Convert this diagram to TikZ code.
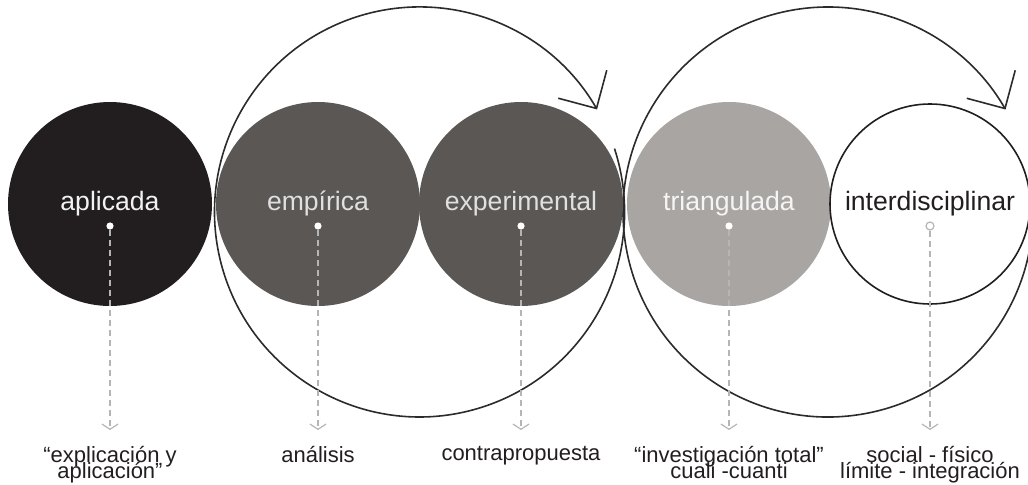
\documentclass[tikz,border=0pt]{standalone}
\usepackage{fontspec}
\setmainfont{Liberation Sans}
\usepackage{tikz}
\usetikzlibrary{arrows.meta}
\definecolor{negro}{HTML}{221E1F}
\definecolor{oscuro}{HTML}{5B5755}
\definecolor{claro}{HTML}{A8A5A3}
\definecolor{guiagris}{HTML}{B5B5B5}
\definecolor{trazo}{HTML}{2B2B2B}
\newcommand{\fuenterotulo}{\fontsize{11}{7.8}\selectfont\lineskiplimit=-20pt\relax}

\begin{document}
\begin{tikzpicture}[x=0.5pt,y=0.5pt,
    etapa/.style={circle,minimum size=102pt,inner sep=0pt,text height=0.8em,text depth=0.2em,font=\fontsize{13.3}{16}\selectfont},
    punto/.style={circle,fill=white,inner sep=0pt,minimum size=3.6pt},
    guia/.style={guiagris,line width=0.6pt,dash pattern=on 3pt off 2pt,-{Straight Barb[length=2.6pt,width=8pt]},shorten >=8pt},
    rotulo/.style={anchor=north,inner sep=0pt,align=center,text=negro,font=\fuenterotulo},
    ciclo/.style={trazo,line width=0.8pt,-{Straight Barb[length=14pt,width=28pt]}}]
    \useasboundingbox (0,0) rectangle (1028,484);
    \draw[ciclo] (614.5,335.4) arc[start angle=18,end angle=-330,radius=205];
    \draw[ciclo] (1029.9,307.6) arc[start angle=10,end angle=-330,radius=205];
    \node[etapa,fill=negro,text=white!95!black] (aplicada) at (110,280) {aplicada};
    \node[etapa,fill=oscuro,text=white!88!black] (empirica) at (318,280) {empírica};
    \node[etapa,fill=oscuro,text=white!88!black] (experimental) at (521,280) {experimental};
    \node[etapa,fill=claro,text=white!96!black] (triangulada) at (729,280) {triangulada};
    \node[etapa,draw=negro,line width=0.8pt,minimum size=100pt,text=negro] (interdisciplinar) at (930,280) {interdisciplinar};
    \node[punto] (pAplicada) at (110,258) {};
    \node[punto] (pEmpirica) at (318,258) {};
    \node[punto] (pExperimental) at (521,258) {};
    \node[punto] (pTriangulada) at (729,258) {};
    \node[punto,draw=guiagris,line width=0.6pt,minimum size=4pt] (pInterdisciplinar) at (930,258) {};
    \node[rotulo] (lAplicada) at (110,38) {“explicación y\\aplicación”};
    \node[rotulo] (lEmpirica) at (318,38) {análisis};
    \node[rotulo] (lExperimental) at (521,38) {contrapropuesta};
    \node[rotulo] (lTriangulada) at (729,38) {“investigación total”\\cuali -cuanti};
    \node[rotulo] (lInterdisciplinar) at (930,38) {social - físico\\límite - integración};
    \draw[guia] (pAplicada) -- (lAplicada);
    \draw[guia] (pEmpirica) -- (lEmpirica);
    \draw[guia] (pExperimental) -- (lExperimental);
    \draw[guia] (pTriangulada) -- (lTriangulada);
    \draw[guia] (pInterdisciplinar) -- (lInterdisciplinar);
\end{tikzpicture}
\end{document}
